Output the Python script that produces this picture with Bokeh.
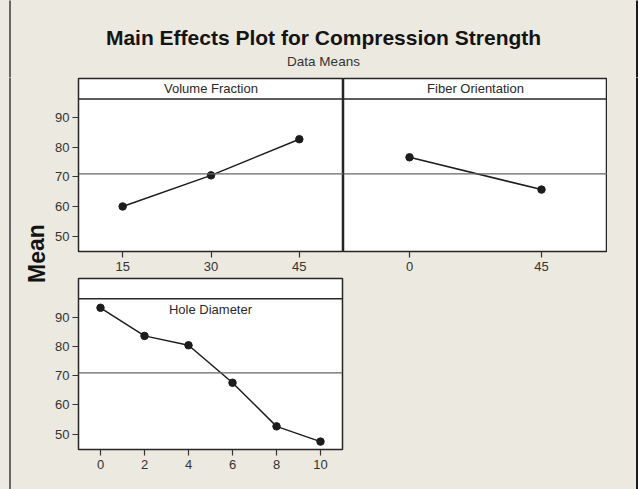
from bokeh.plotting import figure
from bokeh.layouts import column, row
from bokeh.models import Range1d, FixedTicker, Span
from bokeh.core.properties import value
from bokeh.embed import file_html
from bokeh.resources import INLINE

# ---- data: mean compression strength at each factor level ----
vf_levels = [15, 30, 45]
vf_means = [60.0, 70.5, 82.7]

fo_levels = [0, 45]
fo_means = [76.6, 65.7]

hd_levels = [0, 2, 4, 6, 8, 10]
hd_means = [93.2, 83.6, 80.4, 67.6, 52.7, 47.5]

grand_mean = 71.0
y_ticks = [50, 60, 70, 80, 90]

TITLE = "Main Effects Plot for Compression Strength"
SUBTITLE = "Data Means"
Y_LABEL = "Mean"

# ---- styling ----
BG = "#ECE9E0"
INK = "#1c1c1c"
FONT = "Liberation Sans"
Y_LO, Y_HI = 44.8, 103.2   # panel value range, header strip on top
HDR = 96.3                 # bottom edge of the header strip


def decor(w, h):
    """Plain beige strip used for titles and the page frame."""
    d = figure(width=w, height=h, x_range=Range1d(0, w), y_range=Range1d(0, h),
               output_backend="svg", toolbar_location=None,
               x_axis_location=None, y_axis_location=None,
               min_border_left=0, min_border_right=0,
               min_border_top=0, min_border_bottom=0,
               background_fill_color=BG, border_fill_color=BG,
               outline_line_color=None)
    d.grid.visible = False
    d.styles = {"background-color": BG}
    return d


def panel(name, levels, means, xr, width, height, left, right, top, bottom,
          show_y, label_below_line=False):
    p = figure(width=width, height=height,
               x_range=Range1d(*xr), y_range=Range1d(Y_LO, Y_HI),
               output_backend="svg", toolbar_location=None,
               y_axis_location="left" if show_y else None,
               min_border_left=left, min_border_right=right,
               min_border_top=top, min_border_bottom=bottom,
               background_fill_color="white", border_fill_color=BG)
    p.styles = {"background-color": BG}
    p.outline_line_color = "#262626"
    p.outline_line_width = 1.5
    p.grid.visible = False

    axes = [p.xaxis[0]] + ([p.yaxis[0]] if show_y else [])
    for ax in axes:
        ax.axis_line_color = None
        ax.major_tick_in = 0
        ax.major_tick_out = 6
        ax.major_tick_line_color = "#333333"
        ax.major_tick_line_width = 1.2
        ax.minor_tick_line_color = None
        ax.major_label_text_font = FONT
        ax.major_label_text_font_size = "13px"
        ax.major_label_text_color = "#333333"
    p.xaxis[0].ticker = FixedTicker(ticks=levels)
    p.xaxis[0].major_label_standoff = 4
    if show_y:
        p.yaxis[0].ticker = FixedTicker(ticks=y_ticks)
        p.yaxis[0].major_label_standoff = 3

    # header strip separator and grand-mean reference line
    p.add_layout(Span(location=HDR, dimension="width",
                      line_color="#262626", line_width=1.6))
    p.add_layout(Span(location=grand_mean, dimension="width",
                      line_color="#666666", line_width=1.2))

    p.line(levels, means, line_color=INK, line_width=1.5)
    p.scatter(levels, means, size=7.5, fill_color=INK, line_color=INK)

    xmid = (xr[0] + xr[1]) / 2
    if label_below_line:
        p.text(x=[xmid], y=[HDR], text=[name], text_align="center",
               text_baseline="top", y_offset=3,
               text_font=value(FONT), text_font_size="13px", text_color="#2a2a2a")
    else:
        p.text(x=[xmid], y=[(HDR + Y_HI) / 2], text=[name], text_align="center",
               text_baseline="middle",
               text_font=value(FONT), text_font_size="13px", text_color="#2a2a2a")
    return p


LEFT_W = 52          # strip holding the shared y label
AXIS_W = 76 - LEFT_W # room for the y tick labels
TOP_H = 77
LOW_H = 489 - TOP_H

# ---- title strip (y measured upward from the strip's bottom) ----
top = decor(638, TOP_H)
top.text(x=[323], y=[TOP_H - 37], text=[TITLE], text_align="center",
         text_baseline="alphabetic", text_font=value(FONT),
         text_font_style="bold", text_font_size="21px", text_color="#141414")
top.text(x=[323], y=[TOP_H - 61], text=[SUBTITLE], text_align="center",
         text_baseline="alphabetic", text_font=value(FONT),
         text_font_size="13.5px", text_color="#333333")
top.segment(x0=[9.5], y0=[-5], x1=[9.5], y1=[TOP_H + 5], line_color="#3a3a3a", line_width=1.5)
top.segment(x0=[636.5], y0=[-5], x1=[636.5], y1=[TOP_H + 5], line_color="#1a1a1a", line_width=2)

# ---- left strip with the shared y label ----
left = decor(LEFT_W, LOW_H)
left.text(x=[36], y=[LOW_H - 176], text=[Y_LABEL], angle=1.5708, text_align="center",
          text_baseline="middle", text_font=value(FONT), text_font_style="bold",
          text_font_size="23px", text_color="#141414")
left.segment(x0=[9.5], y0=[-5], x1=[9.5], y1=[LOW_H + 5], line_color="#3a3a3a", line_width=1.5)

# ---- right strip (page frame edge) ----
right = decor(31, LOW_H)
right.segment(x0=[29.5], y0=[-5], x1=[29.5], y1=[LOW_H + 5], line_color="#1a1a1a", line_width=2)

# ---- factor panels ----
mid_w = 638 - LEFT_W - 31
p1 = panel("Volume Fraction", vf_levels, vf_means, (7.5, 52.5),
           width=343 - LEFT_W, height=200, left=AXIS_W, right=0, top=1, bottom=26,
           show_y=True)
p2 = panel("Fiber Orientation", fo_levels, fo_means, (-22.5, 67.5),
           width=mid_w - (343 - LEFT_W), height=200, left=0, right=0, top=1, bottom=26,
           show_y=False)
p3 = panel("Hole Diameter", hd_levels, hd_means, (-1, 11),
           width=mid_w, height=212, left=AXIS_W, right=mid_w - (342 - LEFT_W),
           top=1, bottom=40, show_y=True, label_below_line=True)

middle = column(row(p1, p2, spacing=0), p3, spacing=0)
root = column(top, row(left, middle, right, spacing=0), spacing=0)
root.styles = {"background-color": BG}

open("out.html", "w").write(file_html(root, INLINE))
